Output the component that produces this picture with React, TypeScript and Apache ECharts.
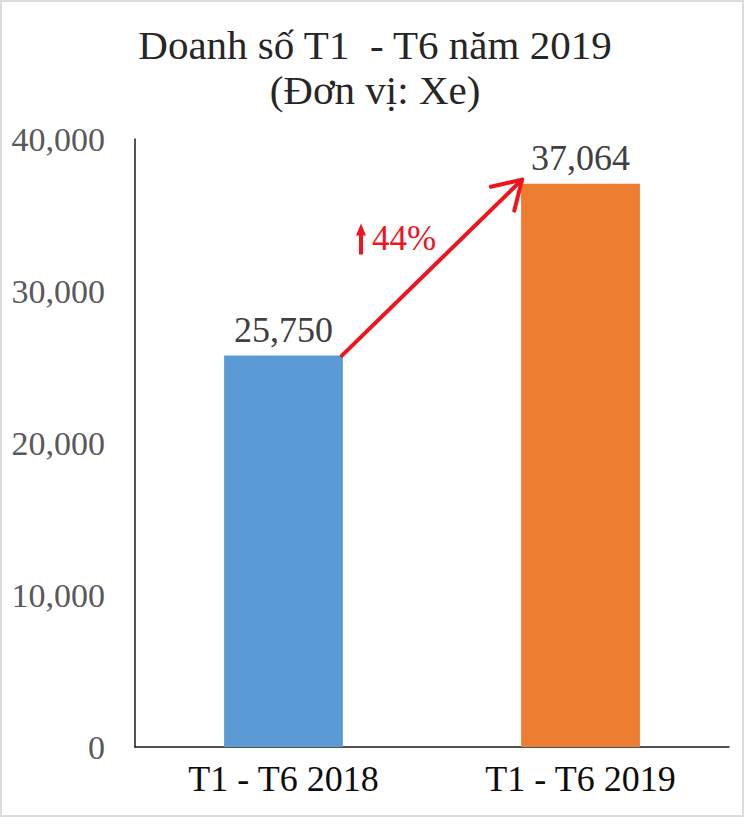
import React, { useEffect, useRef } from "react";
import * as echarts from "echarts";

const categories = ["T1 - T6 2018", "T1 - T6 2019"];
const values = [25750, 37064];
const barColors = ["#5b9bd5", "#ed7d31"];
const yTicks = [0, 10000, 20000, 30000, 40000];
const titleLines = ["Doanh số T1  - T6 năm 2019", "(Đơn vị: Xe)"];
const growthLabel = "44%";

const FONT = '"Liberation Serif", "Times New Roman", serif';
const RED = "#f0141e";

function fmt(v: number) {
  return v.toLocaleString("en-US");
}

export default function App() {
  const ref = useRef<HTMLDivElement>(null);

  useEffect(() => {
    if (!ref.current) return;
    const chart = echarts.init(ref.current, undefined, { renderer: "svg" });
    const option: any = {
      animation: false,
      backgroundColor: "#ffffff",
      title: {
        text: titleLines.join("\n"),
        left: "center",
        top: 17,
        textStyle: {
          fontFamily: FONT,
          fontSize: 41,
          fontWeight: "normal",
          color: "#262626",
          lineHeight: 45,
        },
      },
      grid: { left: 135, right: 21, top: 139, bottom: 82 },
      xAxis: {
        type: "category",
        data: categories,
        axisLine: { show: true, lineStyle: { color: "#1a1a1a", width: 1.5 } },
        axisTick: { show: false },
        axisLabel: {
          fontFamily: FONT,
          fontSize: 36,
          color: "#0d0d0d",
          margin: 14,
        },
      },
      yAxis: {
        type: "value",
        min: 0,
        max: yTicks[yTicks.length - 1],
        interval: yTicks[1] - yTicks[0],
        axisLine: { show: true, lineStyle: { color: "#1a1a1a", width: 1.5 } },
        axisTick: { show: false },
        splitLine: { show: false },
        axisLabel: {
          fontFamily: FONT,
          fontSize: 34,
          color: "#595959",
          margin: 30,
          formatter: (v: number) => fmt(v),
        },
      },
      series: [
        {
          type: "bar",
          barWidth: "40%",
          data: values.map((v, i) => ({ value: v, itemStyle: { color: barColors[i] } })),
          label: {
            show: true,
            position: "top",
            distance: 8,
            fontFamily: FONT,
            fontSize: 36,
            color: "#404040",
            formatter: (p: any) => fmt(p.value),
          },
        },
      ],
    };
    chart.setOption(option);

    // arrow annotation computed from the chart's own scales
    const p0 = chart.convertToPixel({ xAxisIndex: 0, yAxisIndex: 0 }, [0, values[0]]) as number[];
    const p1 = chart.convertToPixel({ xAxisIndex: 0, yAxisIndex: 0 }, [1, values[1]]) as number[];
    const band = p1[0] - p0[0];
    const half = band * 0.2;
    const sx = p0[0] + half - 1;
    const sy = p0[1];
    const ex = p1[0] - half + 1;
    const ey = p1[1] - 4;
    const ang = Math.atan2(ey - sy, ex - sx);
    const headLen = 32;
    const spread = 0.55;
    const h1 = [ex - headLen * Math.cos(ang - spread), ey - headLen * Math.sin(ang - spread)];
    const h2 = [ex - headLen * Math.cos(ang + spread), ey - headLen * Math.sin(ang + spread)];
    const mx = (sx + ex) / 2;
    const my = (sy + ey) / 2;
    const tx = mx - 60;
    const ty = my - 29;
    const ax = tx - 11;

    chart.setOption({
      graphic: [
        {
          type: "rect",
          shape: { x: 1, y: 1, width: 742, height: 815 },
          style: { fill: "none", stroke: "#dcdcdc", lineWidth: 2 },
          silent: true,
          z: 0,
        },
        {
          type: "line",
          shape: { x1: sx, y1: sy, x2: ex, y2: ey },
          style: { stroke: RED, lineWidth: 4, lineCap: "round" },
          z: 10,
        },
        {
          type: "polyline",
          shape: { points: [h1, [ex, ey], h2] },
          style: { stroke: RED, lineWidth: 4, fill: "none", lineCap: "round", lineJoin: "round" },
          z: 10,
        },
        {
          type: "polygon",
          shape: {
            points: [
              [ax, ty - 15],
              [ax + 5, ty - 3],
              [ax + 2, ty - 3],
              [ax + 2, ty + 16],
              [ax - 2, ty + 16],
              [ax - 2, ty - 3],
              [ax - 5, ty - 3],
            ],
          },
          style: { fill: RED },
          z: 10,
        },
        {
          type: "text",
          x: tx,
          y: ty,
          style: {
            text: growthLabel,
            fontFamily: FONT,
            fontSize: 35,
            fill: RED,
            verticalAlign: "middle",
            align: "left",
          },
          z: 10,
        },
      ],
    });

    return () => chart.dispose();
  }, []);

  return (
    <div
      ref={ref}
      style={{ position: "fixed", left: 0, top: 0, width: 750, height: 829 }}
    />
  );
}
